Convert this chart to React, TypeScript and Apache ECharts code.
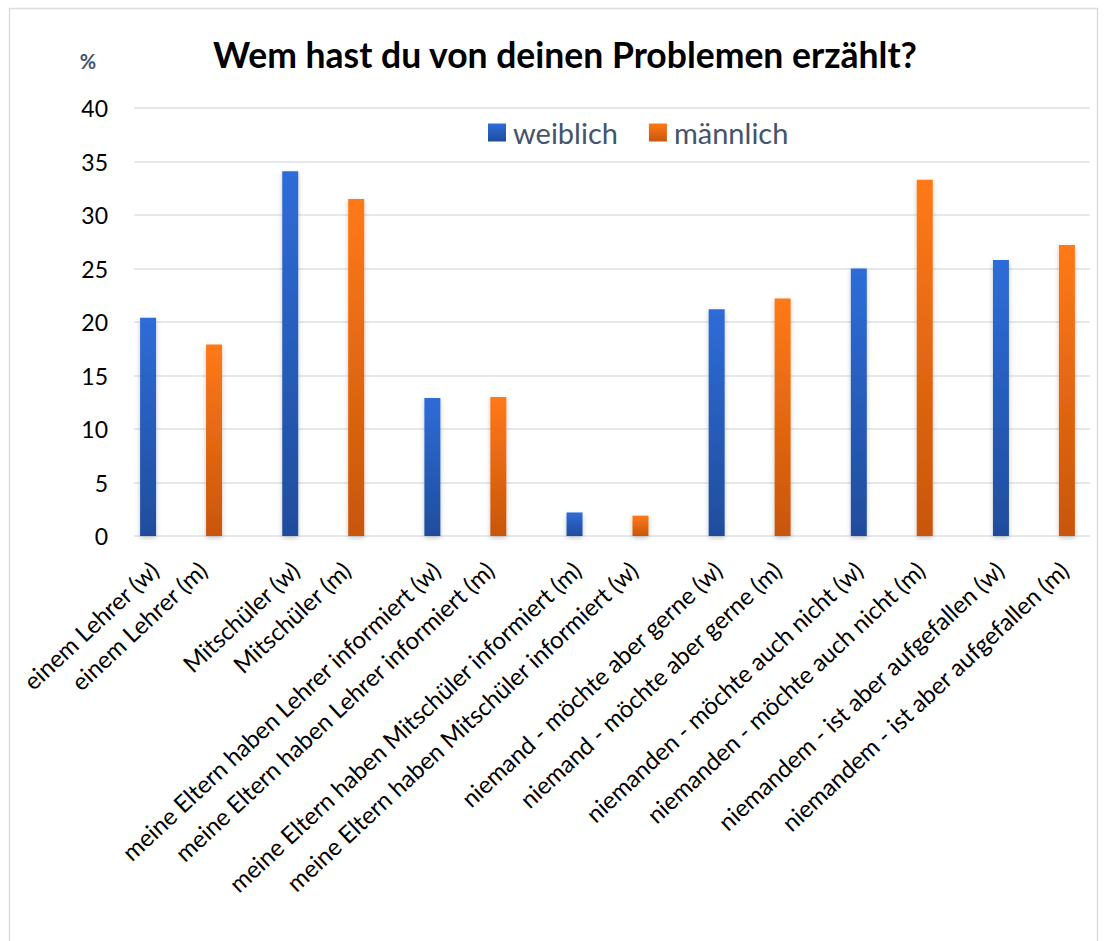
import React, { useEffect, useRef } from "react";
import * as echarts from "echarts";

const categories = [
  "einem Lehrer (w)",
  "einem Lehrer (m)",
  "Mitschüler (w)",
  "Mitschüler (m)",
  "meine Eltern haben Lehrer informiert (w)",
  "meine Eltern haben Lehrer informiert (m)",
  "meine Eltern haben Mitschüler informiert (m)",
  "meine Eltern haben Mitschüler informiert (w)",
  "niemand - möchte aber gerne (w)",
  "niemand - möchte aber gerne (m)",
  "niemanden - möchte auch nicht (w)",
  "niemanden - möchte auch nicht (m)",
  "niemandem - ist aber aufgefallen (w)",
  "niemandem - ist aber aufgefallen (m)",
];

const weiblich = [20.4, null, 34.1, null, 12.9, null, 2.2, null, 21.2, null, 25.0, null, 25.8, null];
const maennlich = [null, 17.9, null, 31.5, null, 13.0, null, 1.9, null, 22.2, null, 33.3, null, 27.2];

const yTicks = { min: 0, max: 40, interval: 5 };
const titleText = "Wem hast du von deinen Problemen erzählt?";
const unitText = "%";
const legendNames = ["weiblich", "männlich"];

const FONT = "Lato, 'Open Sans', sans-serif";

const blueGrad = new echarts.graphic.LinearGradient(0, 0, 0, 1, [
  { offset: 0, color: "#2f6cd8" },
  { offset: 1, color: "#1f4d9c" },
]);
const orangeGrad = new echarts.graphic.LinearGradient(0, 0, 0, 1, [
  { offset: 0, color: "#ff7915" },
  { offset: 1, color: "#c8560e" },
]);

export default function App() {
  const ref = useRef<HTMLDivElement>(null);
  useEffect(() => {
    if (!ref.current) return;
    const chart = echarts.init(ref.current, null, { renderer: "svg" });
    const labelStyle = {
      rotate: 43,
      interval: 0,
      fontSize: 24,
      color: "#000",
      fontFamily: FONT,
      margin: 30,
    };
    const gridTop = 108;
    const gridBottom = 405;
    const plotW = 1005;
    const labelAxis = (gridIndex: number, parity: number) => ({
      type: "category",
      gridIndex,
      data: categories,
      axisLine: { show: false },
      axisTick: { show: false },
      axisLabel: {
        ...labelStyle,
        formatter: (v: string, i: number) => (i % 2 === parity ? v : ""),
      },
    });
    chart.setOption({
      animation: false,
      backgroundColor: "#fff",
      graphic: [
        {
          type: "rect",
          shape: { x: 9.5, y: 8.5, width: 1088, height: 940 },
          style: { fill: "none", stroke: "#d9dde3", lineWidth: 1.5 },
          silent: true,
        },
        {
          type: "text",
          x: 565,
          y: 54,
          style: {
            text: titleText,
            fontSize: 35.5,
            fontWeight: "bold",
            fontFamily: FONT,
            fill: "#000",
            align: "center",
            verticalAlign: "middle",
          },
        },
        {
          type: "text",
          x: 88,
          y: 61,
          style: {
            text: unitText,
            fontSize: 20,
            fontWeight: "bold",
            fontFamily: FONT,
            fill: "#44546a",
            align: "center",
            verticalAlign: "middle",
          },
        },
      ],
      legend: {
        data: legendNames,
        left: 483,
        top: 113,
        icon: "rect",
        itemWidth: 18,
        itemHeight: 18,
        itemGap: 31,
        textStyle: { fontSize: 29, color: "#44546a", fontFamily: FONT, padding: [0, 0, 0, 2] },
      },
      grid: [
        { left: 110, width: plotW, top: gridTop, bottom: gridBottom },
        { left: 134, right: 15, top: gridTop, bottom: gridBottom },
        { left: 119, width: plotW, top: gridTop, bottom: gridBottom },
        { left: 95, width: plotW, top: gridTop, bottom: gridBottom },
      ],
      xAxis: [
        {
          type: "category",
          gridIndex: 0,
          data: categories,
          axisLine: { show: false },
          axisTick: { show: false },
          axisLabel: { show: false },
        },
        { type: "value", gridIndex: 1, show: false },
        labelAxis(2, 0),
        labelAxis(3, 1),
      ],
      yAxis: [
        { type: "value", gridIndex: 0, ...yTicks, show: false },
        {
          type: "value",
          gridIndex: 1,
          ...yTicks,
          axisLine: { show: false },
          axisTick: { show: false },
          splitLine: { lineStyle: { color: "#dde1e7", width: 1.5 } },
          axisLabel: { fontSize: 23, color: "#000", fontFamily: FONT, margin: 26 },
        },
        { type: "value", gridIndex: 2, ...yTicks, show: false },
        { type: "value", gridIndex: 3, ...yTicks, show: false },
      ],
      series: [
        {
          name: "männlich",
          type: "bar",
          xAxisIndex: 0,
          yAxisIndex: 0,
          data: maennlich,
          barWidth: 16,
          barGap: "-68%",
          itemStyle: {
            color: orangeGrad,
            shadowBlur: 5,
            shadowColor: "rgba(0,0,0,0.22)",
            shadowOffsetY: 2,
          },
        },
        {
          name: "weiblich",
          type: "bar",
          xAxisIndex: 0,
          yAxisIndex: 0,
          data: weiblich,
          barWidth: 16,
          barGap: "-68%",
          itemStyle: {
            color: blueGrad,
            shadowBlur: 5,
            shadowColor: "rgba(0,0,0,0.22)",
            shadowOffsetY: 2,
          },
        },
      ],
    });
    return () => chart.dispose();
  }, []);
  return (
    <div
      ref={ref}
      style={{ position: "absolute", left: 0, top: 0, width: 1105, height: 941 }}
    />
  );
}
